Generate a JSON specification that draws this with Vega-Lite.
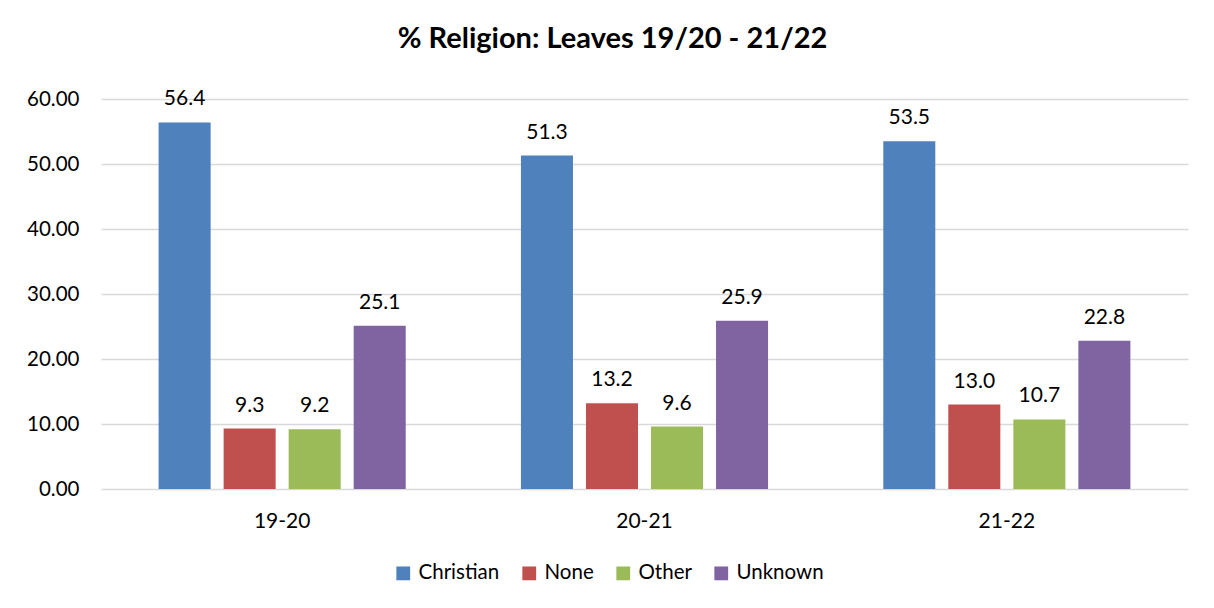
{
  "$schema": "https://vega.github.io/schema/vega-lite/v6.json",
  "width": 1087,
  "height": 390,
  "autosize": {"type": "none"},
  "padding": {"left": 101, "top": 99, "right": 26, "bottom": 119},
  "background": "white",
  "title": {
    "text": "% Religion: Leaves 19/20 - 21/22",
    "font": "Lato",
    "fontSize": 29,
    "fontWeight": "bold",
    "color": "#000000",
    "anchor": "middle",
    "offset": 34,
    "dx": -32
  },
  "data": {
    "values": [
      {"year": "19-20", "religion": "Christian", "pct": 56.4},
      {"year": "19-20", "religion": "None", "pct": 9.3},
      {"year": "19-20", "religion": "Other", "pct": 9.2},
      {"year": "19-20", "religion": "Unknown", "pct": 25.1},
      {"year": "20-21", "religion": "Christian", "pct": 51.3},
      {"year": "20-21", "religion": "None", "pct": 13.2},
      {"year": "20-21", "religion": "Other", "pct": 9.6},
      {"year": "20-21", "religion": "Unknown", "pct": 25.9},
      {"year": "21-22", "religion": "Christian", "pct": 53.5},
      {"year": "21-22", "religion": "None", "pct": 13.0},
      {"year": "21-22", "religion": "Other", "pct": 10.7},
      {"year": "21-22", "religion": "Unknown", "pct": 22.8}
    ]
  },
  "encoding": {
    "x": {
      "field": "year",
      "type": "nominal",
      "scale": {"paddingInner": 0.318, "paddingOuter": 0.159},
      "axis": {
        "title": null,
        "labelAngle": 0,
        "labelFont": "Lato",
        "labelFontSize": 21,
        "labelColor": "#000000",
        "labelPadding": 21,
        "ticks": false,
        "domain": false
      }
    },
    "xOffset": {
      "field": "religion",
      "type": "nominal",
      "scale": {"paddingInner": 0.2, "paddingOuter": 0}
    },
    "y": {
      "field": "pct",
      "type": "quantitative",
      "scale": {"domain": [0, 60], "nice": false},
      "axis": {
        "title": null,
        "values": [0, 10, 20, 30, 40, 50, 60],
        "format": ".2f",
        "labelFont": "Lato",
        "labelFontSize": 20.5,
        "labelColor": "#000000",
        "labelPadding": 22,
        "ticks": false,
        "domain": false,
        "gridColor": "#D9D9D9",
        "gridWidth": 1.5
      }
    }
  },
  "layer": [
    {
      "mark": {"type": "bar"},
      "encoding": {
        "color": {
          "field": "religion",
          "type": "nominal",
          "scale": {
            "domain": ["Christian", "None", "Other", "Unknown"],
            "range": ["#4F81BD", "#C0504D", "#9BBB59", "#8064A2"]
          },
          "legend": {
            "title": null,
            "orient": "none",
            "direction": "horizontal",
            "legendX": 292,
            "legendY": 464,
            "symbolType": "square",
            "symbolSize": 190,
            "symbolStrokeWidth": 0,
            "symbolOpacity": 1,
            "labelFont": "Lato",
            "labelFontSize": 20.5,
            "labelColor": "#000000",
            "columnPadding": 19,
            "labelOffset": 5
          }
        }
      }
    },
    {
      "mark": {"type": "text", "baseline": "bottom", "dy": -13, "font": "Lato", "fontSize": 21, "color": "#000000"},
      "encoding": {
        "text": {"field": "pct", "type": "quantitative", "format": ".1f"}
      }
    }
  ],
  "config": {"view": {"stroke": null}}
}
